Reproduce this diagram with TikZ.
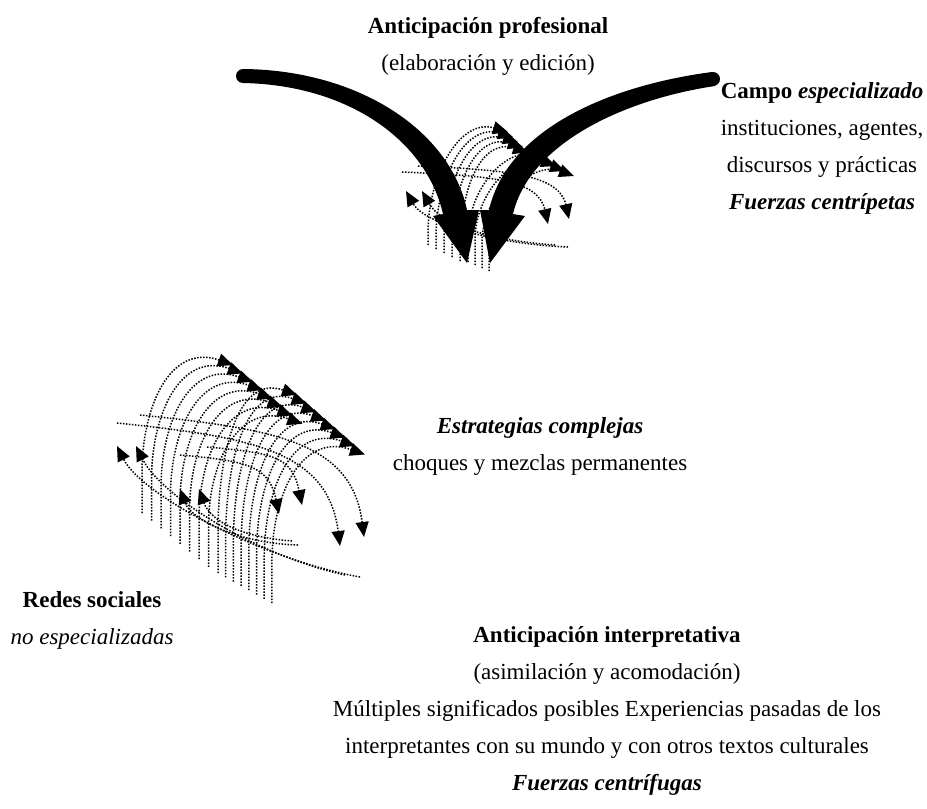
\documentclass[tikz,border=0pt]{standalone}
\usepackage{fontspec}
\setmainfont{Liberation Serif}
\usetikzlibrary{arrows.meta}
\begin{document}
\begin{tikzpicture}[x=1pt,y=-1pt,
  txt/.style={font=\fontsize{23}{28}\selectfont, anchor=base, inner sep=0pt},
  dotl/.style={line width=1.5pt, dash pattern=on 1.5pt off 1.5pt},
  tipd/.style={dotl, -{Triangle[length=15pt,width=13pt]}}]
\useasboundingbox (0,0) rectangle (927,809);

% ---------- lower cluster ----------
\foreach \i in {0,...,7}{
  \draw[tipd] (142+9.5*\i,513+7.7*\i) -- ++(0,-40) .. controls +(0,-68) and +(-62,-22) .. (233+9.9*\i,365+8.4*\i);
}
\foreach \j in {0,...,7}{
  \draw[tipd] (218+7.7*\j,573+4.3*\j) -- ++(0,-40) .. controls +(0,-72) and +(-62,-22) .. (297+9.7*\j,395+8.5*\j);
}
\draw[tipd] (117,423) .. controls +(135,14) and +(-12,-95) .. (340,546);
\draw[tipd] (140,415) .. controls +(135,14) and +(-12,-95) .. (364,537);
\draw[tipd] (180,455) .. controls +(68,6) and +(-10,-48) .. (279,514);
\draw[tipd] (207,447) .. controls +(68,6) and +(-10,-48) .. (302,505);
\draw[tipd] (360,577) .. controls +(-95,-17) and +(25,50) .. (117,446);
\draw[tipd] (345,575) .. controls +(-90,-20) and +(25,50) .. (136,446);
\draw[tipd] (298,545) .. controls +(-65,-2) and +(10,28) .. (180,489);
\draw[tipd] (292,541) .. controls +(-60,-5) and +(10,28) .. (199,489);

% ---------- upper cluster ----------
\foreach \i in {0,...,4}{
  \draw[tipd] (428+8*\i,245+4*\i) -- ++(0,-12) .. controls +(0,-58) and +(-48,-14) .. (508+5*\i,132+5*\i);
}
\foreach \j in {0,...,3}{
  \draw[tipd] (468+7*\j,262+3*\j) -- ++(0,-25) .. controls +(0,-48) and +(-40,-15) .. (547+9*\j,161+5*\j);
}
\draw[tipd] (402,172) .. controls +(88,4) and +(-10,-45) .. (548,224);
\draw[tipd] (418,166) .. controls +(88,4) and +(-10,-45) .. (569,219);
\draw[tipd] (568,247) .. controls +(-75,-3) and +(18,32) .. (406,191);
\draw[tipd] (555,245) .. controls +(-70,-5) and +(18,32) .. (422,191);

% ---------- big arrows ----------
\fill (243,69) .. controls (358,70) and (450,130) .. (467,210) -- (479,210) -- (467,263) -- (433,216) -- (443,214) .. controls (426,140) and (348,85) .. (243,83) -- cycle;
\fill (243,76) circle (7);
\fill (712,72) .. controls (613,85) and (508,127) .. (489,210) -- (480,210) -- (490,263) -- (525,216) -- (513,214) .. controls (530,142) and (627,99) .. (715,86) -- cycle;
\fill (713,79) circle (7);

% ---------- texts ----------
\node[txt] (ap1) at (488,33) {\textbf{Anticipación profesional}};
\node[txt] (ap2) at (488,70) {(elaboración y edición)};
\node[txt] (ce1) at (822,98) {\textbf{Campo \textit{especializado}}};
\node[txt] (ce2) at (822,135) {instituciones, agentes,};
\node[txt] (ce3) at (822,172) {discursos y prácticas};
\node[txt] (ce4) at (822,209) {\textbf{\textit{Fuerzas centrípetas}}};
\node[txt] (es1) at (540,433) {\textbf{\textit{Estrategias complejas}}};
\node[txt] (es2) at (540,470) {choques y mezclas permanentes};
\node[txt] (rs1) at (92,607) {\textbf{Redes sociales}};
\node[txt] (rs2) at (92,644) {\textit{no especializadas}};
\node[txt] (ai1) at (607,642) {\textbf{Anticipación interpretativa}};
\node[txt] (ai2) at (607,679) {(asimilación y acomodación)};
\node[txt] (ai3) at (607,716) {Múltiples significados posibles Experiencias pasadas de los};
\node[txt] (ai4) at (607,753) {interpretantes con su mundo y con otros textos culturales};
\node[txt] (ai5) at (607,790) {\textbf{\textit{Fuerzas centrífugas}}};
\end{tikzpicture}
\end{document}
